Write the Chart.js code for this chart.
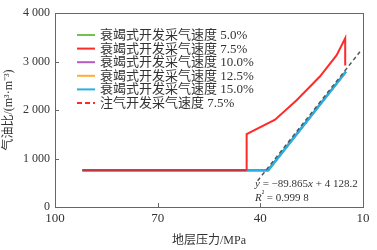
<!DOCTYPE html>
<html><head><meta charset="utf-8">
<script src="https://cdn.jsdelivr.net/npm/chart.js@4/dist/chart.umd.min.js"></script>
<style>html,body{margin:0;padding:0;background:#fff}#wrap{width:377px;height:250px}</style>
</head><body><div id="wrap"><canvas id="c" width="377" height="250"></canvas></div>
<script>
// ---- data ----
const seriesLabels = ['衰竭式开发采气速度 5.0%','衰竭式开发采气速度 7.5%','衰竭式开发采气速度 10.0%','衰竭式开发采气速度 12.5%','衰竭式开发采气速度 15.0%','注气开发采气速度 7.5%'];
const depletionP = [92, 37.7, 15.0];
const depletionGOR = [760, 760, 2790];
const red75P = [92, 44, 44, 35.7, 29.4, 22.6, 17.7, 15.2, 15.2];
const red75GOR = [760, 760, 1505, 1800, 2200, 2690, 3130, 3480, 2920];
const fitP = [40.8, 10.9];
const fitGOR = [540, 3200];
const xTicks = [100, 70, 40, 10];
const yTickLabels = ['0', '1 000', '2 000', '3 000', '4 000'];
const fitText = ['y', ' = −89.865', 'x', ' + 4 128.2'];
const r2Text = ['R', '²', ' = 0.999 8'];

const pts = (xs, ys) => xs.map((x, i) => ({x, y: ys[i]}));
const colors = ['#72c34a', '#ff2a2a', '#b45cc4', '#ffae2f', '#2aaee6', '#ff2a2a'];

const mk = (i, xs, ys, extra) => Object.assign({
  label: seriesLabels[i], data: pts(xs, ys), showLine: true, pointRadius: 0,
  borderColor: colors[i], backgroundColor: colors[i], borderWidth: 2, fill: false, tension: 0, order: 2
}, extra || {});

const datasets = [
  mk(0, depletionP, depletionGOR),
  mk(1, red75P, red75GOR, {order: 0, segment: {borderColor: c => c.p0.parsed.y === c.p1.parsed.y ? '#c2343e' : undefined}}),
  mk(2, depletionP, depletionGOR),
  mk(3, depletionP, depletionGOR),
  mk(4, depletionP, depletionGOR, {borderWidth: 2.5, order: 1}),
  mk(5, fitP, fitGOR, {borderColor: '#555', borderWidth: 1.5, borderDash: [4, 3], order: -1})
];

const serif = '"Liberation Serif", "Noto Sans CJK SC", serif';
const txt = '#333';

const deco = {
  id: 'deco',
  afterDraw(chart) {
    const {ctx, chartArea: a, scales: {x, y}} = chart;
    ctx.save();
    // frame
    ctx.strokeStyle = '#666'; ctx.lineWidth = 1;
    ctx.strokeRect(Math.round(a.left) + 0.5, Math.round(a.top) + 0.5, Math.round(a.right - a.left), Math.round(a.bottom - a.top));
    // inside ticks
    ctx.beginPath();
    xTicks.forEach(v => { const px = Math.round(x.getPixelForValue(v)) + 0.5; ctx.moveTo(px, a.bottom); ctx.lineTo(px, a.bottom - 4); });
    yTickLabels.forEach((_, i) => { const py = Math.round(y.getPixelForValue(i * 1000)) + 0.5; ctx.moveTo(a.left, py); ctx.lineTo(a.left + 4, py); });
    ctx.stroke();
    // legend
    ctx.font = '13px ' + serif; ctx.textBaseline = 'middle'; ctx.textAlign = 'left';
    chart.data.datasets.forEach((ds, i) => {
      const yy = 35 + i * 13.6;
      ctx.strokeStyle = colors[i]; ctx.lineWidth = 2;
      ctx.setLineDash(i === 5 ? [5, 3] : []);
      ctx.beginPath(); ctx.moveTo(77, yy); ctx.lineTo(95, yy); ctx.stroke();
      ctx.setLineDash([]);
      ctx.fillStyle = txt; ctx.fillText(ds.label, 100, yy + 0.5);
    });
    // fit annotation
    const drawParts = (parts, styles, x0, yy) => {
      let cx = x0;
      parts.forEach((p, i) => {
        const st = styles[i];
        ctx.font = (st === 'i' ? 'italic ' : '') + (st === 's' ? '8px ' : '11px ') + serif;
        ctx.fillText(p, cx, st === 's' ? yy - 4 : yy);
        cx += ctx.measureText(p).width;
      });
    };
    ctx.fillStyle = txt;
    drawParts(fitText, ['i', 'n', 'i', 'n'], 255, 184);
    drawParts(r2Text, ['i', 's', 'n'], 255, 198);
    ctx.restore();
  }
};

new Chart(document.getElementById('c'), {
  type: 'scatter',
  data: {datasets},
  options: {
    responsive: false, animation: false, devicePixelRatio: 1,
    layout: {padding: {top: 13, right: 14, left: 0, bottom: 0}},
    plugins: {legend: {display: false}, tooltip: {enabled: false}},
    scales: {
      x: {
        type: 'linear', reverse: true, min: 10, max: 100,
        afterBuildTicks: s => { s.ticks = xTicks.map(v => ({value: v})); },
        afterFit: s => { s.height = 43; },
        grid: {display: false, drawTicks: false},
        border: {display: false},
        ticks: {padding: 4, color: txt, font: {family: serif, size: 13}, maxRotation: 0, callback: v => String(v)},
        title: {display: true, text: '地层压力/MPa', color: txt, font: {family: serif, size: 12}, padding: {top: 4, bottom: 2}}
      },
      y: {
        type: 'linear', min: 0, max: 4000,
        afterBuildTicks: s => { s.ticks = yTickLabels.map((_, i) => ({value: i * 1000})); },
        afterFit: s => { s.width = 55; },
        grid: {display: false, drawTicks: false},
        border: {display: false},
        ticks: {padding: 5, color: txt, font: {family: serif, size: 12}, callback: v => yTickLabels[Math.round(v / 1000)]},
        title: {display: true, text: '气油比/(m³·m⁻³)', color: txt, font: {family: serif, size: 12}, padding: {top: 2, bottom: 2}}
      }
    }
  },
  plugins: [deco]
});
</script></body></html>
